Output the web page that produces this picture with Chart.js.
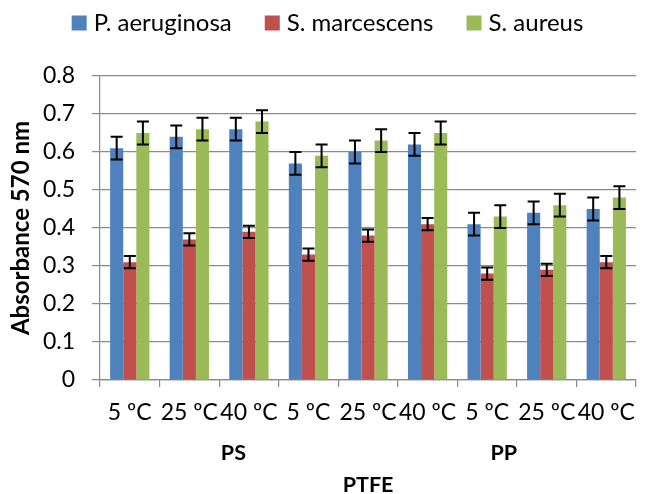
<!DOCTYPE html>
<html>
<head>
<meta charset="utf-8">
<script src="https://cdn.jsdelivr.net/npm/chart.js@4/dist/chart.umd.min.js"></script>
<style>
  html, body { margin: 0; padding: 0; background: #fff; }
</style>
</head>
<body>
<canvas id="chart" width="647" height="494"></canvas>
<script>
const categories = ["5 ºC", "25 ºC", "40 ºC", "5 ºC", "25 ºC", "40 ºC", "5 ºC", "25 ºC", "40 ºC"];
const seriesNames = ["P. aeruginosa", "S. marcescens", "S. aureus"];
const aeruginosa = [0.61, 0.64, 0.66, 0.57, 0.60, 0.62, 0.41, 0.44, 0.45];
const marcescens = [0.31, 0.37, 0.39, 0.33, 0.38, 0.41, 0.28, 0.29, 0.31];
const aureus = [0.65, 0.66, 0.68, 0.59, 0.63, 0.65, 0.43, 0.46, 0.48];
const aeruginosaErr = [0.03, 0.03, 0.03, 0.03, 0.03, 0.03, 0.03, 0.03, 0.03];
const marcescensErr = [0.016, 0.016, 0.016, 0.016, 0.016, 0.016, 0.016, 0.016, 0.016];
const aureusErr = [0.03, 0.03, 0.03, 0.03, 0.03, 0.03, 0.03, 0.03, 0.03];
const groupLabels = ["PS", "PP", "PTFE"];
const groupPos = [1.74, 6.28, 4.0];   // category index under which each label sits
const groupRow = [0, 0, 1];

const font = "Lato";
const gridColor = "#8a8a8a";
const colors = ["#4F81BD", "#C0504D", "#9BBB59"];
const values = [aeruginosa, marcescens, aureus];
const errors = [aeruginosaErr, marcescensErr, aureusErr];

// excel style legend: square, then name, wide gaps
const legendBoxes = {
  id: "legendBoxes",
  afterDraw(chart) {
    const ctx = chart.ctx;
    ctx.save();
    ctx.font = "24px " + font;
    ctx.textBaseline = "middle";
    const box = 15, gap = 7, space = 33;
    const widths = seriesNames.map(s => ctx.measureText(s).width);
    const total = widths.reduce((a, w) => a + w + box + gap, 0) + space * (seriesNames.length - 1);
    let x = chart.width / 2 + 4 - total / 2;
    const cy = 23;
    seriesNames.forEach((s, i) => {
      ctx.fillStyle = colors[i];
      ctx.fillRect(x, cy - box / 2, box, box);
      ctx.fillStyle = "#000";
      ctx.fillText(s, x + box + gap, cy);
      x += box + gap + widths[i] + space;
    });
    ctx.restore();
  }
};

const errorBars = {
  id: "errorBars",
  afterDatasetsDraw(chart) {
    const ctx = chart.ctx;
    const y = chart.scales.y;
    ctx.save();
    ctx.strokeStyle = "#000";
    ctx.lineWidth = 2;
    chart.data.datasets.forEach((ds, di) => {
      chart.getDatasetMeta(di).data.forEach((bar, i) => {
        const v = ds.data[i], e = errors[di][i];
        const top = y.getPixelForValue(v + e), bot = y.getPixelForValue(v - e);
        const x = bar.x;
        ctx.beginPath();
        ctx.moveTo(x, top); ctx.lineTo(x, bot);
        ctx.moveTo(x - 6, top); ctx.lineTo(x + 6, top);
        ctx.moveTo(x - 6, bot); ctx.lineTo(x + 6, bot);
        ctx.stroke();
      });
    });
    ctx.restore();
  }
};

const groupText = {
  id: "groupText",
  afterDraw(chart) {
    const ctx = chart.ctx;
    const x = chart.scales.x;
    const base = chart.chartArea.bottom;
    ctx.save();
    ctx.fillStyle = "#000";
    ctx.font = "bold 21.5px " + font;
    ctx.textAlign = "center";
    ctx.textBaseline = "middle";
    groupLabels.forEach((t, i) => {
      ctx.fillText(t, x.getPixelForValue(groupPos[i]), base + (groupRow[i] ? 105 : 73));
    });
    ctx.restore();
  }
};

new Chart(document.getElementById("chart"), {
  type: "bar",
  data: {
    labels: categories,
    datasets: seriesNames.map((name, i) => ({
      label: name,
      data: values[i],
      backgroundColor: colors[i],
      borderWidth: 0,
      categoryPercentage: 0.66,
      barPercentage: 1.0
    }))
  },
  options: {
    responsive: false,
    animation: false,
    layout: { padding: { left: 0, right: 2, top: 76, bottom: 0 } },
    plugins: {
      legend: { display: false },
      tooltip: { enabled: false }
    },
    scales: {
      x: {
        afterFit: s => { s.height = 114; },
        grid: { drawOnChartArea: false, drawTicks: true, tickLength: 7, color: gridColor, lineWidth: 1.2 },
        border: { color: gridColor, width: 1.2 },
        ticks: { font: { family: font, size: 23 }, color: "#000", maxRotation: 0, autoSkip: false, padding: 12 }
      },
      y: {
        min: 0,
        max: 0.8,
        afterFit: s => { s.width = 100; },
        ticks: { stepSize: 0.1, font: { family: font, size: 23 }, color: "#000", padding: 17,
          callback: v => (Math.round(v * 10) / 10).toString() },
        grid: { color: gridColor, lineWidth: 1.2, tickLength: 8 },
        border: { color: gridColor, width: 1.2 },
        title: { display: true, text: "Absorbance 570 nm", color: "#000",
          font: { family: font, size: 24, weight: "bold" }, padding: { top: 7, bottom: 0 } }
      }
    }
  },
  plugins: [errorBars, legendBoxes, groupText]
});
</script>
</body>
</html>
